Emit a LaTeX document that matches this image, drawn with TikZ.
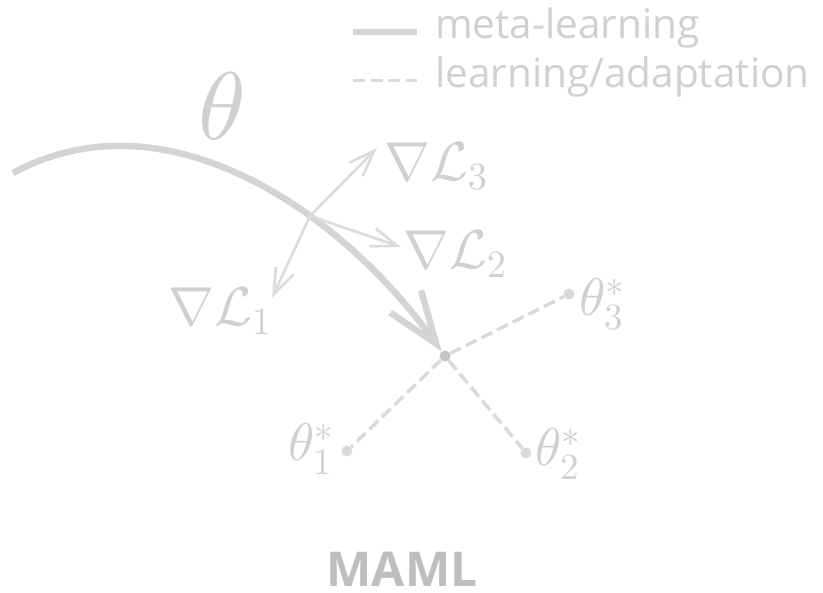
\documentclass[tikz,border=0pt]{standalone}
\usepackage{fontspec}
\setsansfont{Open Sans}
\DeclareFontShape{OML}{cmm}{m}{it}{<->cmmi10}{}
\DeclareFontShape{OMS}{cmsy}{m}{n}{<->cmsy10}{}
\DeclareFontShape{OT1}{cmr}{m}{n}{<->cmr10}{}
\DeclareFontShape{OMX}{cmex}{m}{n}{<->cmex10}{}
\usetikzlibrary{arrows.meta}
\definecolor{cline}{HTML}{D4D4D4}
\definecolor{cgrad}{HTML}{DCDCDC}
\definecolor{ctext}{HTML}{D0D0D0}
\definecolor{cdash}{HTML}{DADADA}
\definecolor{cdot}{HTML}{DADADA}
\definecolor{ccenter}{HTML}{C4C4C4}
\definecolor{cmaml}{HTML}{BEBEBE}
\tikzset{
  metaline/.style={draw=cline, line width=6.5pt},
  metaarrow/.style={metaline, -{Straight Barb[length=52pt,width=38pt,line width=6.5pt]}},
  gradarrow/.style={draw=cgrad, line width=2.7pt, -{Straight Barb[length=26pt,width=19pt,line width=2.7pt]}},
  adaptline/.style={draw=cdash, line width=3.5pt, dash pattern=on 12pt off 5.5pt},
  dotnode/.style={circle, fill=cdot, inner sep=0pt, minimum size=11pt},
  centernode/.style={circle, fill=ccenter, inner sep=0pt, minimum size=11pt},
  mathlbl/.style={text=ctext, inner sep=0pt, anchor=base west, font=\fontsize{55}{60}\selectfont},
  starlbl/.style={text=ctext, inner sep=0pt, anchor=base west, font=\fontsize{53}{58}\selectfont},
  legendtxt/.style={text=ctext, inner sep=0pt, anchor=base west, font=\sffamily\fontsize{40.5}{46}\selectfont},
}
\begin{document}
\begin{tikzpicture}[x=1pt,y=-1pt]
\useasboundingbox (0,0) rectangle (823,593);
% legend
\coordinate (la) at (353,32);
\coordinate (lb) at (417,32);
\coordinate (lc) at (353,81);
\coordinate (ld) at (417,81);
\draw[metaline] (la) -- (lb);
\draw[adaptline, line width=3pt] (lc) -- (ld);
\node[legendtxt] (lt1) at (435,39) {meta-learning};
\node[legendtxt] (lt2) at (435,88) {learning/adaptation};
% theta
\node[text=ctext, inner sep=0pt, anchor=base west, font=\fontsize{96}{100}\selectfont] (th) at (198,140) {$\theta$};
% points
\node[centernode] (c) at (445,356) {};
\node[dotnode] (t1) at (347,451) {};
\node[dotnode] (t2) at (526,453) {};
\node[dotnode] (t3) at (569,294) {};
% main curve
\coordinate (s) at (13,173);
\draw[metaarrow] (s) .. controls (165,91) and (339,209) .. (c);
% gradients
\coordinate (g) at (310,216);
\coordinate (a1) at (272,298);
\coordinate (a2) at (401,247);
\coordinate (a3) at (377,148);
\draw[gradarrow] (g) -- (a1);
\draw[gradarrow] (g) -- (a2);
\draw[gradarrow] (g) -- (a3);
\node[mathlbl] (L1) at (168,326) {$\nabla\mathcal{L}_1$};
\node[mathlbl] (L2) at (403,269) {$\nabla\mathcal{L}_2$};
\node[mathlbl] (L3) at (384,181) {$\nabla\mathcal{L}_3$};
% adaptation
\draw[adaptline] (c) -- (t1);
\draw[adaptline] (c) -- (t2);
\draw[adaptline] (c) -- (t3);
\node[starlbl] (s1) at (288,461) {$\theta_1^*$};
\node[starlbl] (s2) at (535,466) {$\theta_2^*$};
\node[starlbl] (s3) at (579,316) {$\theta_3^*$};
% title
\node[text=cmaml, inner sep=0pt, anchor=base, font=\sffamily\bfseries\fontsize{48}{52}\selectfont] (maml) at (402,587) {MAML};
\end{tikzpicture}
\end{document}
